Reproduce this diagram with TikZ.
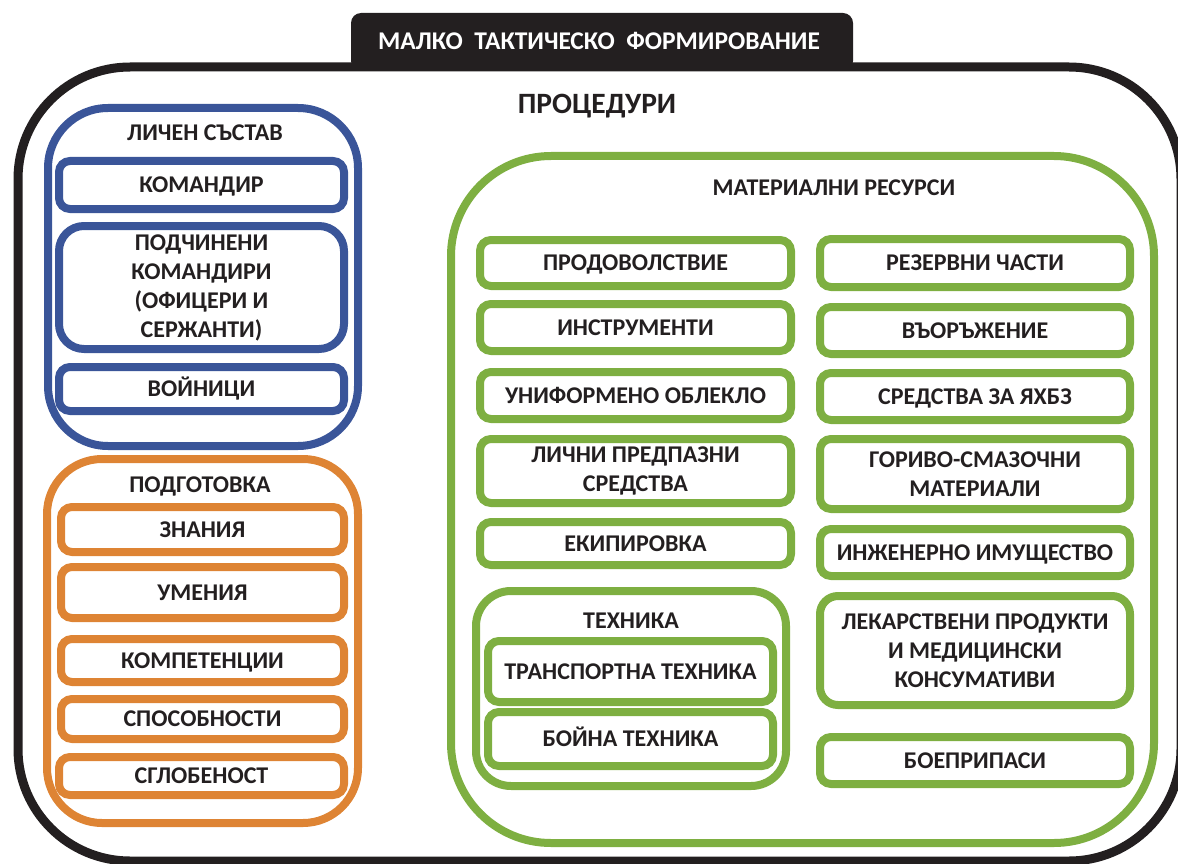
\documentclass[tikz,border=0pt]{standalone}
\usepackage{fontspec}
\setmainfont{Carlito}
\definecolor{mblue}{HTML}{3A5599}
\definecolor{morange}{HTML}{DE8434}
\definecolor{mgreen}{HTML}{7EAF41}
\definecolor{mblack}{HTML}{231F20}
\newcommand\boxfont{\fontsize{24}{29}\selectfont\bfseries}
\newcommand\titlefont{\fontsize{25.5}{30}\selectfont\bfseries}
\newcommand\bigfont{\fontsize{29.5}{34}\selectfont\bfseries}
\begin{document}
\begin{tikzpicture}[x=1pt,y=-1pt,
  ibox/.style={draw, line width=8pt, rounded corners=11pt, inner sep=0pt, align=center,
    font=\boxfont, text=mblack, text height=15.5pt, text depth=0pt},
  multi/.style={text height=, text depth=},
  bbox/.style={ibox, draw=mblue},
  obox/.style={ibox, draw=morange},
  gbox/.style={ibox, draw=mgreen},
  grp/.style={draw, line width=8pt, inner sep=0pt},
  ttl/.style={font=\boxfont, text=mblack, inner sep=0pt, text height=15.5pt, text depth=0pt}
]
\useasboundingbox (0,0) rectangle (1178,864);
% outer frame and tab
\draw[line width=9pt, mblack, rounded corners=112pt] (18,67) rectangle (1181,861);
\fill[mblack, rounded corners=10pt] (351,13) rectangle (853,71);
\node[font=\titlefont, text=white, inner sep=0pt, text height=16.5pt, text depth=0pt] (title) at (599,41) {МАЛКО\ \ ТАКТИЧЕСКО\ \ ФОРМИРОВАНИЕ};
\node[font=\bigfont, text=mblack, inner sep=0pt, text height=19pt, text depth=0pt] (proc) at (597,104) {ПРОЦЕДУРИ};

% personnel group
\node[grp, draw=mblue, rounded corners=60pt, minimum width=310pt, minimum height=338pt] (lsg) at (203,277) {};
\node[ttl] (lst) at (205,133) {ЛИЧЕН СЪСТАВ};
\node[bbox, minimum width=285pt, minimum height=48pt] (kom) at (201.5,185) {КОМАНДИР};
\node[bbox, multi, rounded corners=25pt, minimum width=285pt, minimum height=123pt] (pod) at (201.5,287.5) {ПОДЧИНЕНИ\\КОМАНДИРИ\\(ОФИЦЕРИ И\\СЕРЖАНТИ)};
\node[bbox, minimum width=285pt, minimum height=44pt] (voi) at (201.5,389) {ВОЙНИЦИ};

% training group
\node[grp, draw=morange, rounded corners=55pt, minimum width=311pt, minimum height=364pt] (pdg) at (202.5,641) {};
\node[ttl] (pdt) at (200,485) {ПОДГОТОВКА};
\node[obox, minimum width=283pt, minimum height=45pt] (zn) at (202.5,529.5) {ЗНАНИЯ};
\node[obox, minimum width=283pt, minimum height=51pt] (um) at (202.5,592.5) {УМЕНИЯ};
\node[obox, minimum width=283pt, minimum height=43pt] (kmp) at (202.5,660.5) {КОМПЕТЕНЦИИ};
\node[obox, minimum width=283pt, minimum height=40pt] (spo) at (202.5,719) {СПОСОБНОСТИ};
\node[obox, minimum width=285pt, minimum height=38pt] (sgl) at (201.5,776) {СГЛОБЕНОСТ};

% material resources group
\node[grp, draw=mgreen, rounded corners=100pt, minimum width=703pt, minimum height=687pt] (mrg) at (802.5,499.5) {};
\node[ttl] (mrt) at (834,188) {МАТЕРИАЛНИ РЕСУРСИ};
% left column
\node[gbox, minimum width=311pt, minimum height=46pt] (prod) at (635.5,263) {ПРОДОВОЛСТВИЕ};
\node[gbox, minimum width=311pt, minimum height=47pt] (instr) at (635.5,327.5) {ИНСТРУМЕНТИ};
\node[gbox, minimum width=311pt, minimum height=47pt] (unif) at (635.5,395.5) {УНИФОРМЕНО ОБЛЕКЛО};
\node[gbox, multi, minimum width=311pt, minimum height=64pt] (lps) at (635.5,471) {ЛИЧНИ ПРЕДПАЗНИ\\СРЕДСТВА};
\node[gbox, minimum width=311pt, minimum height=43pt] (ekip) at (635.5,543.5) {ЕКИПИРОВКА};
\node[grp, draw=mgreen, rounded corners=35pt, minimum width=310pt, minimum height=195pt] (tehg) at (631,688.5) {};
\node[ttl] (teht) at (631,621) {ТЕХНИКА};
\node[gbox, minimum width=285pt, minimum height=61pt] (trans) at (630.5,671.5) {ТРАНСПОРТНА ТЕХНИКА};
\node[gbox, minimum width=285pt, minimum height=54pt] (boi) at (630.5,739) {БОЙНА ТЕХНИКА};
% right column
\node[gbox, minimum width=310pt, minimum height=48pt] (rez) at (975,263) {РЕЗЕРВНИ ЧАСТИ};
\node[gbox, minimum width=310pt, minimum height=47pt] (vaor) at (975,330.5) {ВЪОРЪЖЕНИЕ};
\node[gbox, minimum width=310pt, minimum height=47pt] (sred) at (975,396.5) {СРЕДСТВА ЗА ЯХБЗ};
\node[gbox, multi, minimum width=310pt, minimum height=70pt] (gor) at (975,474) {ГОРИВО-СМАЗОЧНИ\\МАТЕРИАЛИ};
\node[gbox, minimum width=310pt, minimum height=47pt] (inj) at (975,552.5) {ИНЖЕНЕРНО ИМУЩЕСТВО};
\node[gbox, multi, rounded corners=18pt, minimum width=310pt, minimum height=109pt] (lek) at (975,650.5) {ЛЕКАРСТВЕНИ ПРОДУКТИ\\И МЕДИЦИНСКИ\\КОНСУМАТИВИ};
\node[gbox, minimum width=310pt, minimum height=47pt] (boep) at (975,760.5) {БОЕПРИПАСИ};
\end{tikzpicture}
\end{document}
